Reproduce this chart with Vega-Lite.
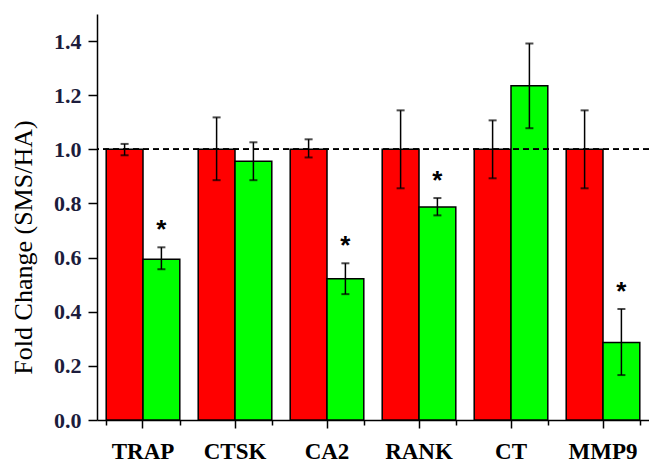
{
  "$schema": "https://vega.github.io/schema/vega-lite/v6.json",
  "autosize": "none",
  "width": 552,
  "height": 406,
  "padding": {"left": 97, "top": 14, "right": 0, "bottom": 42},
  "background": "white",
  "config": {"view": {"stroke": null}},
  "data": {"values": [
    {"gene": "TRAP", "group": "HA", "value": 1.0, "lo": 0.978, "hi": 1.02, "star": ""},
    {"gene": "TRAP", "group": "SMS", "value": 0.594, "lo": 0.557, "hi": 0.638, "star": "*"},
    {"gene": "CTSK", "group": "HA", "value": 1.0, "lo": 0.886, "hi": 1.118, "star": ""},
    {"gene": "CTSK", "group": "SMS", "value": 0.956, "lo": 0.886, "hi": 1.026, "star": ""},
    {"gene": "CA2", "group": "HA", "value": 1.0, "lo": 0.97, "hi": 1.037, "star": ""},
    {"gene": "CA2", "group": "SMS", "value": 0.522, "lo": 0.465, "hi": 0.579, "star": "*"},
    {"gene": "RANK", "group": "HA", "value": 1.0, "lo": 0.856, "hi": 1.144, "star": ""},
    {"gene": "RANK", "group": "SMS", "value": 0.787, "lo": 0.756, "hi": 0.82, "star": "*"},
    {"gene": "CT", "group": "HA", "value": 1.0, "lo": 0.893, "hi": 1.107, "star": ""},
    {"gene": "CT", "group": "SMS", "value": 1.235, "lo": 1.078, "hi": 1.391, "star": ""},
    {"gene": "MMP9", "group": "HA", "value": 1.0, "lo": 0.856, "hi": 1.144, "star": ""},
    {"gene": "MMP9", "group": "SMS", "value": 0.286, "lo": 0.166, "hi": 0.41, "star": "*"}
  ]},
  "resolve": {"axis": {"x": "independent"}},
  "layer": [
    {
      "mark": {"type": "bar", "stroke": "black", "strokeWidth": 1.5},
      "encoding": {
        "x": {"field": "gene", "type": "nominal", "sort": null,
          "scale": {"paddingInner": 0.2, "paddingOuter": 0.1},
          "axis": {"orient": "bottom", "title": null, "labelAngle": 0, "labelFont": "Liberation Serif", "labelFontWeight": "bold", "labelFontSize": 23, "labelColor": "black", "labelPadding": 12, "tickSize": 8, "tickWidth": 1.5, "tickColor": "black", "domainColor": "black", "domainWidth": 1.5}},
        "xOffset": {"field": "group", "type": "nominal", "sort": ["HA", "SMS"], "scale": {"paddingInner": 0, "paddingOuter": 0}},
        "y": {"field": "value", "type": "quantitative", "scale": {"domain": [0, 1.5], "nice": false},
          "axis": {"title": "Fold Change (SMS/HA)", "titleFont": "Liberation Serif", "titleFontSize": 26, "titleFontWeight": "normal", "titleColor": "black", "titleX": -74, "titleY": 233, "titleAnchor": "middle", "titleBaseline": "middle", "titleAngle": -90,
            "values": [0, 0.1, 0.2, 0.3, 0.4, 0.5, 0.6, 0.7, 0.8, 0.9, 1.0, 1.1, 1.2, 1.3, 1.4],
            "labelExpr": "round(datum.value*10) % 2 == 0 ? format(datum.value, '.1f') : ''",
            "labelFont": "Liberation Serif", "labelFontSize": 22, "labelFontWeight": "bold", "labelColor": "#1c1c3c", "labelPadding": 7,
            "tickSize": {"condition": {"test": "round(datum.value*10) % 2 == 1", "value": 5}, "value": 9},
            "tickWidth": 1.5, "tickColor": "black", "domainColor": "black", "domainWidth": 1.5, "grid": false}},
        "fill": {"field": "group", "type": "nominal", "scale": {"domain": ["HA", "SMS"], "range": ["#FF0000", "#00FF00"]}, "legend": null}
      }
    },
    {
      "mark": {"type": "rule", "color": "black", "strokeWidth": 1.5},
      "encoding": {
        "x": {"field": "gene", "type": "nominal", "sort": null, "axis": null},
        "xOffset": {"field": "group", "type": "nominal", "sort": ["HA", "SMS"]},
        "y": {"field": "lo", "type": "quantitative"},
        "y2": {"field": "hi"}
      }
    },
    {
      "mark": {"type": "tick", "color": "black", "thickness": 2, "size": 8, "orient": "horizontal"},
      "encoding": {
        "x": {"field": "gene", "type": "nominal", "sort": null, "axis": null},
        "xOffset": {"field": "group", "type": "nominal", "sort": ["HA", "SMS"]},
        "y": {"field": "lo", "type": "quantitative"}
      }
    },
    {
      "mark": {"type": "tick", "color": "black", "thickness": 2, "size": 8, "orient": "horizontal"},
      "encoding": {
        "x": {"field": "gene", "type": "nominal", "sort": null, "axis": null},
        "xOffset": {"field": "group", "type": "nominal", "sort": ["HA", "SMS"]},
        "y": {"field": "hi", "type": "quantitative"}
      }
    },
    {
      "mark": {"type": "text", "font": "Liberation Sans", "fontWeight": "bold", "fontSize": 26, "baseline": "middle", "dy": -17, "color": "black"},
      "encoding": {
        "x": {"field": "gene", "type": "nominal", "sort": null,
          "axis": {"orient": "bottom", "title": null, "labels": false, "domain": false, "tickBand": "extent", "tickSize": 5, "tickWidth": 1.5, "tickColor": "black"}},
        "xOffset": {"field": "group", "type": "nominal", "sort": ["HA", "SMS"]},
        "y": {"field": "hi", "type": "quantitative"},
        "text": {"field": "star"}
      }
    },
    {
      "mark": {"type": "rule", "color": "black", "strokeWidth": 1, "strokeDash": [6, 4]},
      "encoding": {"y": {"datum": 1.0, "type": "quantitative"}}
    }
  ]
}
